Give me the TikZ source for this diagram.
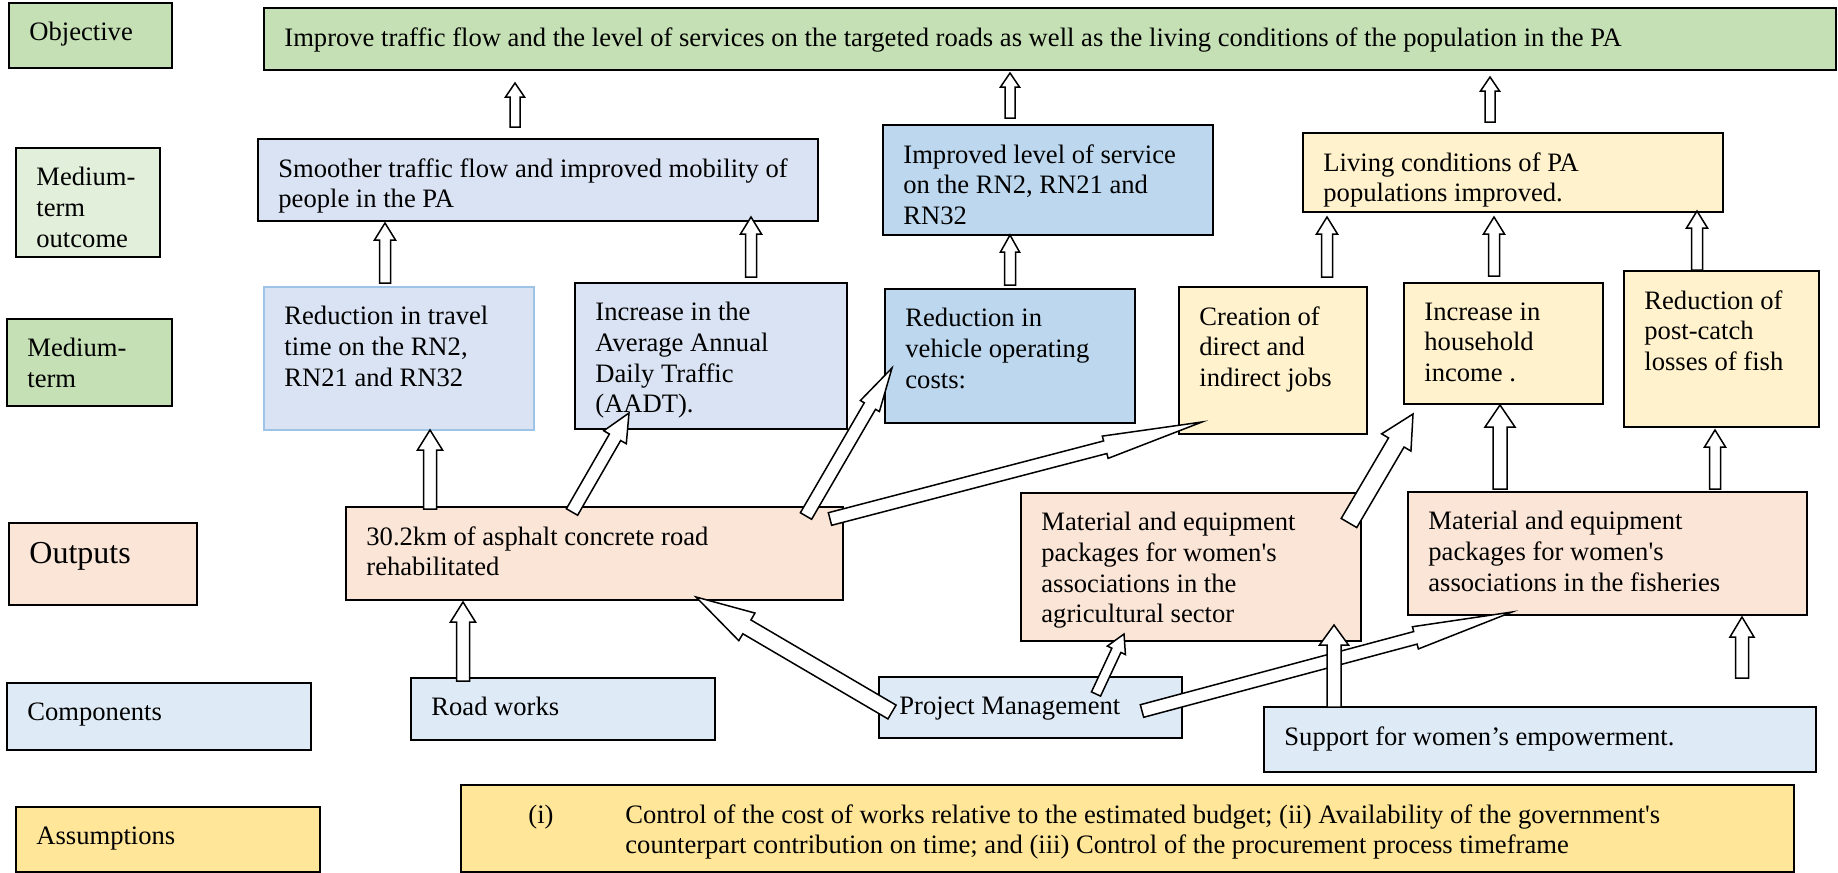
\documentclass[tikz,border=0pt]{standalone}
\usepackage{fontspec}
\setmainfont{Liberation Serif}
\usepackage{tikz}
\usetikzlibrary{calc}
\definecolor{objgreen}{HTML}{C5E0B4}
\definecolor{palegreen}{HTML}{E2EFDA}
\definecolor{lavblue}{HTML}{DAE3F3}
\definecolor{midblue}{HTML}{BDD7EE}
\definecolor{rttline}{HTML}{9DC3E6}
\definecolor{paleyellow}{HTML}{FFF2CC}
\definecolor{outpeach}{HTML}{FBE5D6}
\definecolor{compblue}{HTML}{DEEBF7}
\definecolor{assyellow}{HTML}{FFE699}
\tikzset{box/.style={rectangle,draw=black,line width=0.8pt,anchor=north west,outer sep=0pt,inner sep=0pt}}
\tikzset{txt/.style={anchor=north west,align=left,inner xsep=10pt,inner ysep=9.5pt}}
\tikzset{blockarr/.style={draw=black,fill=white,line width=0.75pt,line join=miter}}
% tail, tip, half shaft, half head, head length
\newcommand{\blockarrow}[5]{%
  \coordinate (tail) at (#1);
  \coordinate (tip) at (#2);
  \coordinate (neck) at ($(tip)!#5!(tail)$);
  \draw[blockarr] ($(tail)!#3!90:(tip)$) -- ($(neck)!#3!90:(tip)$) -- ($(neck)!#4!90:(tip)$) -- (tip)
    -- ($(neck)!#4!-90:(tip)$) -- ($(neck)!#3!-90:(tip)$) -- ($(tail)!#3!-90:(tip)$) -- cycle;}

\begin{document}
\begin{tikzpicture}[x=0.5pt,y=-0.5pt,font=\fontsize{13.3}{15.3}\selectfont]
\path[fill=white,use as bounding box] (0,0) rectangle (1838,873);

% row labels
\node[box,fill=objgreen,minimum width=81.5pt,minimum height=32.5pt] (lobj) at (9,3) {};
\node[txt] (lobj-t) at (lobj.north west) {Objective};
\node[box,fill=palegreen,minimum width=72pt,minimum height=54.5pt] (lmto) at (16,148) {};
\node[txt] (lmto-t) at (lmto.north west) {Medium-\\term\\outcome};
\node[box,fill=objgreen,minimum width=82.5pt,minimum height=43.5pt] (lmt) at (7,319) {};
\node[txt] (lmt-t) at (lmt.north west) {Medium-\\term};
\node[box,fill=outpeach,minimum width=94pt,minimum height=41pt] (lout) at (9,523) {};
\node[txt,font=\fontsize{16}{19}\selectfont] (lout-t) at (lout.north west) {Outputs};
\node[box,fill=compblue,minimum width=152pt,minimum height=33.5pt] (lcomp) at (7,683) {};
\node[txt] (lcomp-t) at (lcomp.north west) {Components};
\node[box,fill=assyellow,minimum width=152pt,minimum height=32.5pt] (lass) at (16,807) {};
\node[txt] (lass-t) at (lass.north west) {Assumptions};

% objective and outcomes
\node[box,fill=objgreen,minimum width=786pt,minimum height=31pt] (obj) at (264,8) {};
\node[txt] (obj-t) at (obj.north west) {Improve traffic flow and the level of services on the targeted roads as well as the living conditions of the population in the PA};
\node[box,fill=lavblue,minimum width=280pt,minimum height=41pt] (smooth) at (258,139) {};
\node[txt] (smooth-t) at (smooth.north west) {Smoother traffic flow and improved mobility of\\people in the PA};
\node[box,fill=midblue,minimum width=165pt,minimum height=55pt] (imp) at (883,125) {};
\node[txt] (imp-t) at (imp.north west) {Improved level of service\\on the RN2, RN21 and\\RN32};
\node[box,fill=paleyellow,minimum width=210pt,minimum height=39.5pt] (living) at (1303,133) {};
\node[txt] (living-t) at (living.north west) {Living conditions of PA\\populations improved.};

% medium-term
\node[box,fill=lavblue,draw=rttline,line width=1.1pt,minimum width=135pt,minimum height=71.5pt] (rtt) at (264,287) {};
\node[txt] (rtt-t) at (rtt.north west) {Reduction in travel\\time on the RN2,\\RN21 and RN32};
\node[box,fill=lavblue,minimum width=136pt,minimum height=73pt] (aadt) at (575,283) {};
\node[txt] (aadt-t) at (aadt.north west) {Increase in the\\Average Annual\\Daily Traffic\\(AADT).};
\node[box,fill=midblue,minimum width=125pt,minimum height=67pt] (voc) at (885,289) {};
\node[txt] (voc-t) at (voc.north west) {Reduction in\\vehicle operating\\costs:};
\node[box,fill=paleyellow,minimum width=94pt,minimum height=73.5pt] (jobs) at (1179,287) {};
\node[txt] (jobs-t) at (jobs.north west) {Creation of\\direct and\\indirect jobs};
\node[box,fill=paleyellow,minimum width=99.5pt,minimum height=60.5pt] (income) at (1404,283) {};
\node[txt] (income-t) at (income.north west) {Increase in\\household\\income .};
\node[box,fill=paleyellow,minimum width=97.5pt,minimum height=78pt] (fish) at (1624,271) {};
\node[txt] (fish-t) at (fish.north west) {Reduction of\\post-catch\\losses of fish};

% outputs
\node[box,fill=outpeach,minimum width=248.5pt,minimum height=46.5pt] (road) at (346,507) {};
\node[txt] (road-t) at (road.north west) {30.2km of asphalt concrete road\\rehabilitated};
\node[box,fill=outpeach,minimum width=170pt,minimum height=74pt] (agri) at (1021,493) {};
\node[txt] (agri-t) at (agri.north west) {Material and equipment\\packages for women\textquotesingle s\\associations in the\\agricultural sector};
\node[box,fill=outpeach,minimum width=199.5pt,minimum height=61.5pt] (fishpkg) at (1408,492) {};
\node[txt] (fishpkg-t) at (fishpkg.north west) {Material and equipment\\packages for women\textquotesingle s\\associations in the fisheries};

% components
\node[box,fill=compblue,minimum width=152pt,minimum height=31pt] (works) at (411,678) {};
\node[txt] (works-t) at (works.north west) {Road works};
\node[box,fill=compblue,minimum width=151.5pt,minimum height=30.5pt] (pm) at (879,677) {};
\node[txt] (pm-t) at (pm.north west) {Project Management};
\node[box,fill=compblue,minimum width=276pt,minimum height=32.5pt] (support) at (1264,707) {};
\node[txt] (support-t) at (support.north west) {Support for women’s empowerment.};

% assumptions
\node[box,fill=assyellow,minimum width=666.5pt,minimum height=43.5pt] (assum) at (461,785) {};
\node[txt,xshift=23.5pt] (assum-t) at (assum.north west) {\makebox[48.5pt][l]{(i)}Control of the cost of works relative to the estimated budget; (ii) Availability of the government\textquotesingle s\\\hspace*{48.5pt}counterpart contribution on time; and (iii) Control of the procurement process timeframe};

% arrows to objective
\blockarrow{$(smooth.north west)+(257,-12)$}{$(obj.north west)+(251,75)$}{2.5pt}{4.75pt}{7pt}
\blockarrow{$(imp.north west)+(127,-7)$}{$(obj.north west)+(746,65)$}{2.5pt}{4.75pt}{7pt}
\blockarrow{$(living.north west)+(187,-11)$}{$(obj.north west)+(1226,69)$}{2.5pt}{4.75pt}{7pt}

% arrows to outcomes
\blockarrow{$(rtt.north west)+(121,-4)$}{$(smooth.north west)+(127,84)$}{2.75pt}{5.25pt}{8.5pt}
\blockarrow{$(aadt.north west)+(176,-6)$}{$(smooth.north west)+(493,78)$}{2.75pt}{5.25pt}{8.5pt}
\blockarrow{$(voc.north west)+(125,-4)$}{$(imp.north west)+(127,110)$}{2.75pt}{4.75pt}{8.5pt}
\blockarrow{$(jobs.north west)+(148,-10)$}{$(living.north west)+(24,84)$}{2.75pt}{5.25pt}{8.5pt}
\blockarrow{$(income.north west)+(90,-7)$}{$(living.north west)+(191,84)$}{2.75pt}{5.25pt}{8.5pt}
\blockarrow{$(fish.north west)+(73,-1)$}{$(living.north west)+(394,78)$}{2.75pt}{5.25pt}{8.5pt}

% arrows from outputs
\blockarrow{$(road.north west)+(84,2)$}{$(rtt.north west)+(166,143)$}{3.25pt}{6.25pt}{10pt}
\blockarrow{$(road.north west)+(226,5)$}{$(aadt.north west)+(54,130)$}{3.25pt}{6.5pt}{14pt}
\blockarrow{$(road.north west)+(460,9)$}{$(voc.north west)+(7,79)$}{3.25pt}{5.5pt}{22pt}
\blockarrow{$(road.north west)+(484,12)$}{$(jobs.north west)+(23,135)$}{3.25pt}{5.75pt}{50pt}
\blockarrow{$(agri.north west)+(328,30)$}{$(income.north west)+(9,131)$}{4.5pt}{8.5pt}{16.5pt}
\blockarrow{$(fishpkg.north west)+(92,-3)$}{$(income.north west)+(96,122)$}{3.5pt}{7.5pt}{11pt}
\blockarrow{$(fishpkg.north west)+(307,-3)$}{$(fish.north west)+(91,159)$}{2.75pt}{5.25pt}{8.5pt}

% arrows from components
\blockarrow{$(works.north west)+(52,3)$}{$(road.north west)+(117,95)$}{3.25pt}{6.25pt}{10pt}
\blockarrow{$(pm.north west)+(13,35)$}{$(road.north west)+(350,90)$}{4pt}{8pt}{29.5pt}
\blockarrow{$(pm.north west)+(217,17)$}{$(agri.north west)+(103,141)$}{2.5pt}{5pt}{9pt}
\blockarrow{$(pm.north west)+(263,34)$}{$(fishpkg.north west)+(104,120)$}{3.25pt}{5.75pt}{50pt}
\blockarrow{$(support.north west)+(70,0)$}{$(agri.north west)+(313,132)$}{3.5pt}{7.25pt}{10pt}
\blockarrow{$(fishpkg.north west)+(334,186)$}{$(fishpkg.north west)+(334,125)$}{3.25pt}{6pt}{10pt}
\end{tikzpicture}
\end{document}
